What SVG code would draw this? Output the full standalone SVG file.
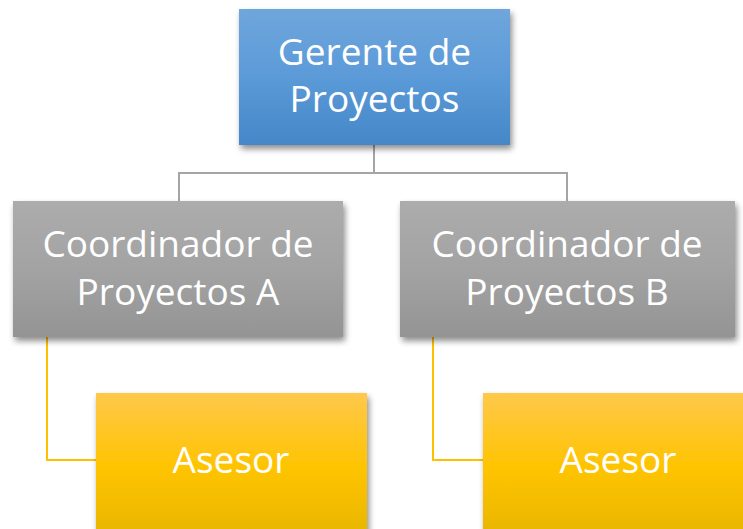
<svg xmlns="http://www.w3.org/2000/svg" width="743" height="529" viewBox="0 0 743 529">
<defs>
<linearGradient id="gBlue" x1="0" y1="0" x2="0" y2="1">
<stop offset="0" stop-color="#6fa6dc"/><stop offset="0.5" stop-color="#5b9ad8"/><stop offset="1" stop-color="#4587c8"/>
</linearGradient>
<linearGradient id="gGray" x1="0" y1="0" x2="0" y2="1">
<stop offset="0" stop-color="#acacac"/><stop offset="0.5" stop-color="#a3a3a3"/><stop offset="1" stop-color="#949494"/>
</linearGradient>
<linearGradient id="gYel" x1="0" y1="0" x2="0" y2="1">
<stop offset="0" stop-color="#ffc84c"/><stop offset="0.5" stop-color="#ffc400"/><stop offset="1" stop-color="#e5b400"/>
</linearGradient>
<filter id="sh" x="-10%" y="-10%" width="120%" height="130%">
<feGaussianBlur in="SourceAlpha" stdDeviation="3"/>
<feOffset dx="2" dy="4" result="o"/>
<feComponentTransfer><feFuncA type="linear" slope="0.45"/></feComponentTransfer>
<feMerge><feMergeNode/><feMergeNode in="SourceGraphic"/></feMerge>
</filter>
</defs>
<style>
text{font-family:"Open Sans","Liberation Sans",sans-serif;fill:#ffffff;text-anchor:middle;font-size:37px}
.gc{fill:none;stroke:#a5a5a5;stroke-width:2}
.yc{fill:none;stroke:#ffc000;stroke-width:2}
</style>
<g id="connectors">
<path class="gc" d="M374 145 V173 M179 201 V173 H567 V201"/>
<path class="yc" d="M47 337 V460 H96"/>
<path class="yc" d="M433 337 V460 H483"/>
</g>
<g id="gerente">
<rect x="239" y="9" width="271" height="136" fill="url(#gBlue)" filter="url(#sh)"/>
<text x="374.5" y="65">Gerente de</text>
<text x="374.5" y="112">Proyectos</text>
</g>
<g id="coordA">
<rect x="13" y="201" width="330" height="136" fill="url(#gGray)" filter="url(#sh)"/>
<text x="178" y="257">Coordinador de</text>
<text x="178" y="305">Proyectos A</text>
</g>
<g id="coordB">
<rect x="400" y="201" width="335" height="136" fill="url(#gGray)" filter="url(#sh)"/>
<text x="567" y="257">Coordinador de</text>
<text x="567" y="305">Proyectos B</text>
</g>
<g id="asesorA">
<rect x="96" y="393" width="271" height="150" fill="url(#gYel)" filter="url(#sh)"/>
<text x="231" y="473">Asesor</text>
</g>
<g id="asesorB">
<rect x="483" y="393" width="271" height="150" fill="url(#gYel)" filter="url(#sh)"/>
<text x="618" y="473">Asesor</text>
</g>
</svg>
